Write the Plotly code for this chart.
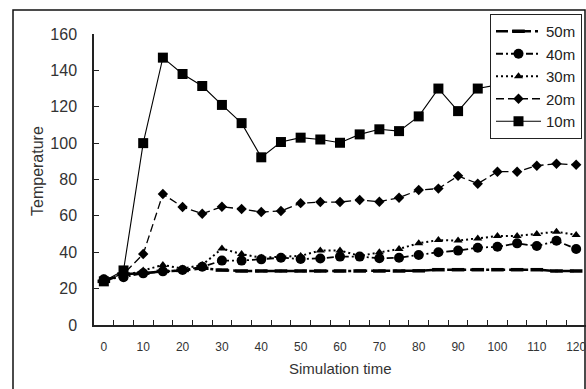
import plotly.graph_objects as go

times = [0, 5, 10, 15, 20, 25, 30, 35, 40, 45, 50, 55, 60, 65, 70, 75, 80, 85, 90, 95, 100, 105, 110, 115, 120]

t_50m = [24, 28, 28.5, 29.5, 30, 31.2, 30.2, 29.7, 29.7, 29.7, 29.7, 29.7, 29.7, 29.7, 29.7, 29.7, 29.8, 30.4, 30.4, 30.4, 30.4, 30.4, 30.4, 29.7, 29.7]
t_40m = [25.1, 26.3, 28.4, 29.5, 30.2, 32, 35.4, 35.4, 36.1, 37, 36.3, 36.6, 37.6, 37.6, 36.7, 37, 38.5, 40, 40.9, 42.5, 43, 44.9, 43.4, 46.3, 41.8]
t_30m = [25, 27, 30, 33, 31, 33, 42, 39, 37, 37.5, 38, 41, 41, 38, 40, 41.8, 45, 46.7, 46.4, 47.6, 48.9, 49, 50, 51.3, 49.5]
t_20m = [25, 28, 39, 72, 64.9, 61.2, 65, 63.8, 62.1, 62.7, 67, 67.6, 67.6, 68.7, 67.8, 70, 74.2, 75, 82, 77.7, 84.3, 84.3, 87.6, 88.7, 88.1]
t_10m = [24, 30, 100, 147, 138, 131.4, 121, 111, 92.2, 100.6, 103, 102, 100.2, 104.8, 107.6, 106.6, 114.7, 130, 117.6, 130, 132, 128, 135, 140, 138]

series_names = ["50m", "40m", "30m", "20m", "10m"]
series_values = [t_50m, t_40m, t_30m, t_20m, t_10m]

x_tick_vals = [0, 10, 20, 30, 40, 50, 60, 70, 80, 90, 100, 110, 120]
y_tick_vals = [0, 20, 40, 60, 80, 100, 120, 140, 160]

styles = {
    "50m": dict(line=dict(color="black", width=2.5, dash="12px,4px,3px,4px"),
                marker=dict(symbol="line-ew", size=9, color="black", line=dict(color="black", width=3.5))),
    "40m": dict(line=dict(color="black", width=1.8, dash="7px,3px,2px,3px"),
                marker=dict(symbol="circle", size=10, color="black")),
    "30m": dict(line=dict(color="black", width=2, dash="2px,3px"),
                marker=dict(symbol="triangle-up", size=8, color="black")),
    "20m": dict(line=dict(color="black", width=1.3, dash="8px,4px"),
                marker=dict(symbol="diamond", size=8, color="black")),
    "10m": dict(line=dict(color="black", width=1.1),
                marker=dict(symbol="square", size=10, color="black")),
}

fig = go.Figure()
for name, vals in zip(series_names, series_values):
    fig.add_trace(go.Scatter(x=times, y=vals, mode="lines+markers", name=name, **styles[name]))

font_family = "Liberation Sans, Arial, sans-serif"

fig.update_layout(
    width=586, height=389,
    margin=dict(l=94, r=0, t=34, b=64),
    paper_bgcolor="white", plot_bgcolor="white",
    font=dict(family=font_family, color="#222"),
    showlegend=True,
    legend=dict(
        x=(490 - 94) / 492, y=1 + (34 - 14) / 291, xanchor="left", yanchor="top",
        bgcolor="white", bordercolor="#222", borderwidth=1,
        font=dict(size=15, color="#222"),
        tracegroupgap=0, itemwidth=45,
    ),
    xaxis=dict(
        range=[-2.5, 122.5], tickmode="array", tickvals=x_tick_vals,
        ticks="", showgrid=False, zeroline=False,
        showline=True, linecolor="#222", linewidth=1.5,
        tickfont=dict(size=12, color="#333"), ticklabelstandoff=10,
        ticklabeloverflow="allow",
        minor=dict(tickmode="array", tickvals=[t + 2.5 for t in times], ticks="inside",
                   ticklen=5, tickcolor="#222", tickwidth=1.2, showgrid=False),
    ),
    yaxis=dict(
        range=[0, 160], tickmode="array", tickvals=y_tick_vals,
        ticks="inside", ticklen=5, tickcolor="#222", tickwidth=1.2,
        showgrid=False, zeroline=False,
        showline=True, linecolor="#222", linewidth=1.5,
        tickfont=dict(size=16, color="#333"), ticklabelstandoff=12,
    ),
    annotations=[
        dict(text="Simulation time", xref="paper", yref="paper", x=0.5, y=-0.151,
             xanchor="center", yanchor="middle", showarrow=False,
             font=dict(size=15, color="#333")),
        dict(text="Temperature", xref="paper", yref="paper", x=-0.116, y=0.529,
             xanchor="center", yanchor="middle", showarrow=False, textangle=-90,
             font=dict(size=16, color="#333")),
    ],
    shapes=[
        dict(type="rect", xref="paper", yref="paper",
             x0=(13 - 94) / 492, x1=(585 - 94) / 492,
             y0=-0.5, y1=1 + (34 - 10) / 291,
             line=dict(color="#111", width=1.5), fillcolor="rgba(0,0,0,0)", layer="below"),
    ],
)

fig.write_html("out.html")
